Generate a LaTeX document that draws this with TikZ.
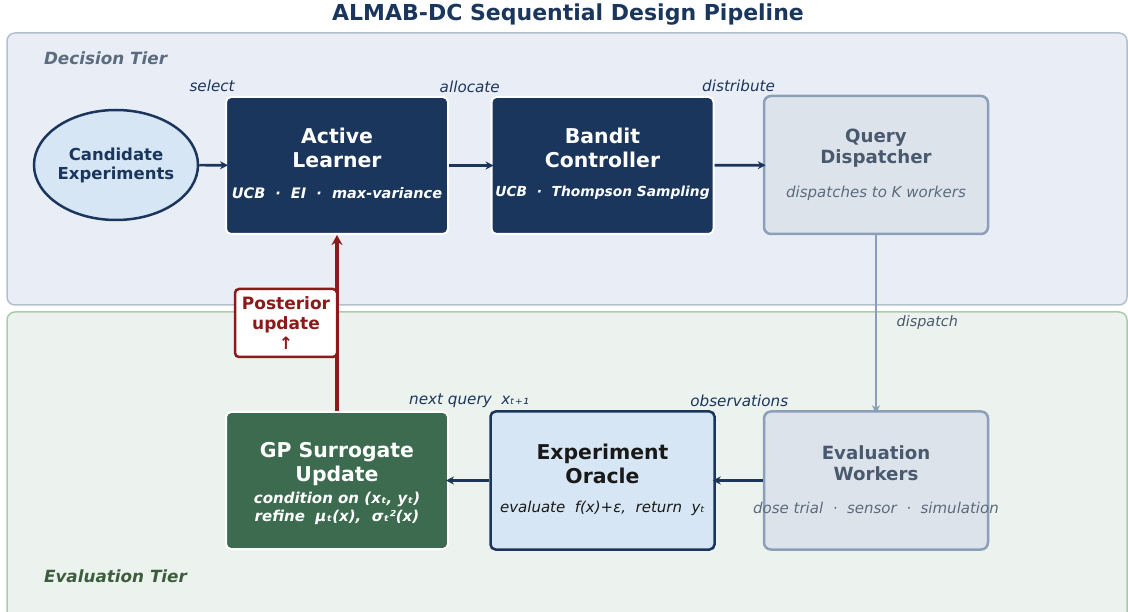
\documentclass[tikz,border=0pt]{standalone}
\usepackage{fontspec}
\setmainfont{DejaVu Sans}
\usetikzlibrary{arrows.meta,shapes.geometric,positioning}
\definecolor{navy}{HTML}{1B365D}
\definecolor{paleblue}{HTML}{D7E6F4}
\definecolor{decfill}{HTML}{E9EEF6}
\definecolor{decline}{HTML}{B3C0CC}
\definecolor{evfill}{HTML}{ECF2EE}
\definecolor{evline}{HTML}{ACCBAC}
\definecolor{grayfill}{HTML}{DDE3EB}
\definecolor{grayline}{HTML}{8C9FB8}
\definecolor{graytext}{HTML}{4A5A6E}
\definecolor{gpgreen}{HTML}{3D6B4F}
\definecolor{postred}{HTML}{8B1A1A}
\definecolor{dectext}{HTML}{5B6B80}
\definecolor{evtext}{HTML}{3D5E3D}

\begin{document}
\begin{tikzpicture}[x=1pt,y=-1pt,
 tier/.style={rounded corners=8pt,line width=1.5pt},
 box/.style={rectangle,rounded corners=5pt,minimum width=\bw,minimum height=\bh,line width=2pt},
 darkbox/.style={box,fill=navy,draw=white},
 greenbox/.style={box,fill=gpgreen,draw=white},
 oraclebox/.style={box,fill=paleblue,draw=navy,line width=2.5pt},
 graybox/.style={box,fill=grayfill,draw=grayline,line width=2.5pt,rounded corners=7pt},
 ttl/.style={align=center,font=\bfseries\fontsize{20.4}{24}\selectfont},
 graytl/.style={align=center,font=\bfseries\fontsize{18.2}{21}\selectfont,text=graytext},
 subdark/.style={align=center,font=\bfseries\itshape\fontsize{14.5}{18}\selectfont,text=white},
 sublight/.style={font=\itshape\fontsize{15}{18}\selectfont},
 edgelbl/.style={font=\itshape\fontsize{15.2}{18}\selectfont,text=navy},
 flow/.style={-{Stealth[length=8pt,width=8pt]},line width=2.6pt,navy,shorten >=-3pt},
 feedback/.style={-{Stealth[length=10pt,width=11pt]},line width=3.5pt,postred}]
 \def\bw{222pt} % box width
 \def\bh{137pt} % box height
 \useasboundingbox (0,0) rectangle (1128,612);
 \clip (0,0) rectangle (1128,612);
% tiers
 \draw[tier,fill=decfill,draw=decline] (7,33) rectangle (1127,305);
 \draw[tier,fill=evfill,draw=evline] (7,312) rectangle (1127,630);
 \node[anchor=west,text=dectext,font=\bfseries\itshape\fontsize{16.8}{20}\selectfont] (dectier) at (40.5,58) {Decision Tier};
 \node[anchor=west,text=evtext,font=\bfseries\itshape\fontsize{16.8}{20}\selectfont] (evtier) at (40.5,576) {Evaluation Tier};
 \node[text=navy,font=\bfseries\fontsize{22}{26}\selectfont] (title) at (568,15) {ALMAB-DC Sequential Design Pipeline};
% decision row
 \node[ellipse,minimum width=164pt,minimum height=110pt,fill=paleblue,draw=navy,line width=2.5pt] (cand) at (116,165) {};
 \node[align=center,text=navy,font=\bfseries\fontsize{16.5}{19}\selectfont] at (116,165) {Candidate\\Experiments};
 \node[darkbox] (al) at (337,165.5) {};
 \node[ttl,text=white] at (337,148) {Active\\Learner};
 \node[subdark] at (337,193) {UCB\ \ ·\ \ EI\ \ ·\ \ max-variance};
 \node[darkbox] (bc) at (602.5,165.5) {};
 \node[ttl,text=white] at (602.5,148) {Bandit\\Controller};
 \node[subdark,font=\bfseries\itshape\fontsize{13.8}{18}\selectfont] at (602.5,193) {UCB\ \ ·\ \ Thompson Sampling};
 \def\bw{224pt}
 \def\bh{138pt}
 \node[graybox] (qd) at (876,165) {};
 \node[graytl] at (876,148) {Query\\Dispatcher};
 \node[sublight,text=graytext!90] at (876,193) {dispatches to K workers};
% evaluation row
 \node[graybox] (ew) at (876,480.5) {};
 \node[graytl] at (876,463.5) {Evaluation\\Workers};
 \node[sublight,text=graytext!90] at (876,508) {dose trial\ \ ·\ \ sensor\ \ ·\ \ simulation};
 \node[oraclebox] (eo) at (602.5,480.5) {};
 \node[ttl,text=black!90] at (602.5,464) {Experiment\\Oracle};
 \node[sublight,text=black!90] at (602.5,508) {evaluate\ \ f(x)+ε,\ \ return\ \ yₜ};
 \def\bw{222pt}
 \def\bh{137pt}
 \node[greenbox] (gp) at (337,480.5) {};
 \node[ttl,text=white] at (337,464) {GP Surrogate\\Update};
 \node[subdark,font=\bfseries\itshape\fontsize{15}{18}\selectfont] at (337,508) {condition on (xₜ, yₜ)\\refine\ \ μₜ(x),\ \ σₜ²(x)};
% connectors
 \draw[flow] (cand) -- (al) node[midway,yshift=79pt,edgelbl] {select};
 \draw[flow] (al) -- (bc) node[midway,yshift=79pt,edgelbl] {allocate};
 \draw[flow] (bc) -- (qd) node[midway,yshift=79pt,edgelbl] {distribute};
 \draw[flow,grayline] (qd) -- (ew) node[midway,anchor=west,xshift=16pt,edgelbl,text=graytext,font=\itshape\fontsize{14.4}{17}\selectfont] {dispatch};
 \draw[flow] (ew) -- (eo) node[midway,yshift=80pt,edgelbl] {observations};
 \draw[flow] (eo) -- (gp) node[midway,yshift=80pt,edgelbl] {next query\ \ xₜ₊₁};
 \draw[feedback] (gp) -- (al);
 \node[rectangle,rounded corners=4pt,fill=white,draw=postred,line width=2.5pt,minimum width=102pt,minimum height=68pt,align=center,text=postred,font=\bfseries\fontsize{17}{20}\selectfont] (post) at (286,323) {Posterior\\update\\↑};
\end{tikzpicture}
\end{document}
